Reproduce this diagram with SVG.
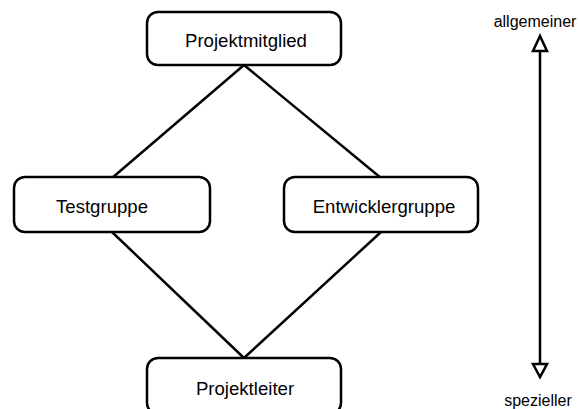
<svg xmlns="http://www.w3.org/2000/svg" width="580" height="409" viewBox="0 0 580 409">
  <style>
    .box { fill: #ffffff; stroke: #000000; stroke-width: 2.5; }
    .edge { fill: none; stroke: #000000; stroke-width: 2.5; }
    .label { font-family: "Liberation Sans", Arial, sans-serif; font-size: 18.6px; fill: #000000; text-anchor: middle; }
    .axis-label { font-family: "Liberation Sans", Arial, sans-serif; font-size: 16px; fill: #000000; text-anchor: middle; }
    .head { fill: #ffffff; stroke: #000000; stroke-width: 2.5; stroke-linejoin: miter; }
  </style>
  <rect width="580" height="409" fill="#ffffff"/>

  <!-- generalisation edges -->
  <g id="connectors">
    <line class="edge" x1="244" y1="65" x2="112" y2="178"/>
    <line class="edge" x1="244" y1="65" x2="381" y2="178"/>
    <line class="edge" x1="112" y1="232" x2="244" y2="358"/>
    <line class="edge" x1="381" y1="232" x2="244" y2="358"/>
  </g>

  <g id="projektmitglied">
    <rect class="box" x="147" y="12" width="194" height="53" rx="11"/>
    <text class="label" x="246" y="47">Projektmitglied</text>
  </g>

  <g id="testgruppe">
    <rect class="box" x="14" y="177" width="196" height="55" rx="11"/>
    <text class="label" x="102" y="213">Testgruppe</text>
  </g>

  <g id="entwicklergruppe">
    <rect class="box" x="284" y="177" width="194" height="55" rx="11"/>
    <text class="label" x="384" y="213">Entwicklergruppe</text>
  </g>

  <g id="projektleiter">
    <rect class="box" x="147" y="358" width="194" height="56" rx="11"/>
    <text class="label" x="245" y="395">Projektleiter</text>
  </g>

  <!-- abstraction scale -->
  <g id="scale">
    <line class="edge" x1="540" y1="52" x2="540" y2="364"/>
    <polygon class="head" points="540,36 533,51 547,51"/>
    <polygon class="head" points="540,377 533,364 547,364"/>
    <text class="axis-label" x="535" y="27">allgemeiner</text>
    <text class="axis-label" x="538" y="406">spezieller</text>
  </g>
</svg>
